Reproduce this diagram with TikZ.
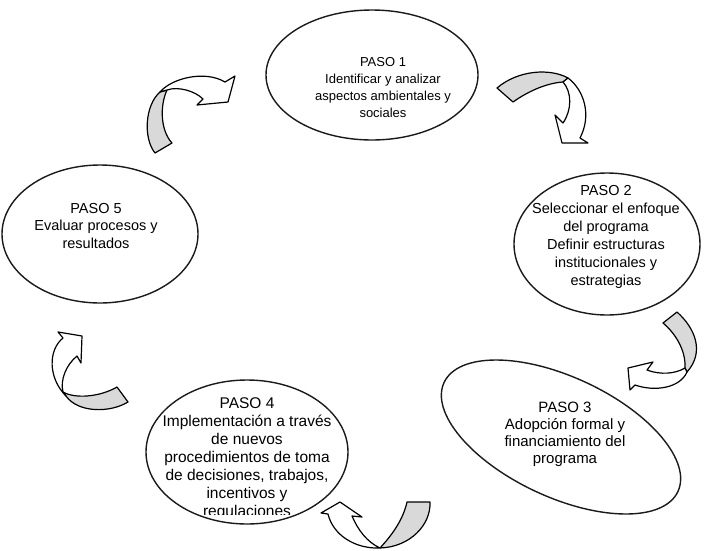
\documentclass[tikz,border=0pt]{standalone}
\usepackage{fontspec}
\setmainfont{Liberation Sans}
\usetikzlibrary{shapes.geometric}
\definecolor{band}{HTML}{D9D9D9}
\definecolor{ink}{HTML}{1A1A1A}

\begin{document}
\begin{tikzpicture}[x=1pt,y=-1pt,
 paso/.style={draw=ink,line width=1.4pt,ellipse,fill=white,inner sep=0pt},
 txt/.style={align=center,inner sep=0pt,font=\fontsize{14.5}{17.5}\selectfont},
 back/.style={draw=black,line width=1.2pt,fill=band,line join=round},
 front/.style={draw=black,line width=1.2pt,fill=white,line join=round}]
 \useasboundingbox (0,0) rectangle (705,550);
 % ellipses
 \node[paso,minimum width=212pt,minimum height=130pt] (p1) at (372,75) {};
 \node[paso,minimum width=186pt,minimum height=142pt] (p2) at (607,244) {};
 \node[paso,minimum width=258pt,minimum height=120pt,rotate=-25] (p3) at (561,437) {};
 \node[paso,minimum width=202pt,minimum height=144pt] (p4) at (247,452) {};
 \node[paso,minimum width=196pt,minimum height=138pt] (p5) at (100,234) {};
 % texts
 \node[txt,font=\fontsize{13}{17}\selectfont] (t1) at (383,88) {PASO 1\\Identificar y analizar\\aspectos ambientales y\\sociales};
 \node[txt,font=\fontsize{14.5}{18}\selectfont] (t2) at (606,237) {PASO 2\\Seleccionar el enfoque\\del programa\\Definir estructuras\\institucionales y\\estrategias};
 \node[txt,font=\fontsize{15}{17}\selectfont] (t3) at (565,434) {PASO 3\\Adopción formal y\\financiamiento del\\programa};
 \begin{scope}
  \clip (140,380) rectangle (352,514);
  \node[txt,font=\fontsize{15.5}{18}\selectfont] (t4) at (247,459) {PASO 4\\Implementación a través\\de nuevos\\procedimientos de toma\\de decisiones, trabajos,\\incentivos y\\regulaciones};
 \end{scope}
 \node[txt] (t5) at (96,226) {PASO 5\\Evaluar procesos y\\resultados};
 % arrow 5 -> 1
 \filldraw[back] (160,92) .. controls (145,105) and (143,138) .. (155,153) -- (172,143)
  .. controls (160,130) and (160,105) .. (167,90) -- cycle;
 \filldraw[front] (160,92) .. controls (172,78) and (205,70) .. (225,82) -- (235,76) -- (228,102)
  -- (197,105) -- (203,99) .. controls (195,91) and (178,86) .. (167,90) -- cycle;
 % arrow 1 -> 2
 \filldraw[back] (497,88) -- (513,102) .. controls (530,90) and (548,83) .. (563,82) -- (568,78)
  .. controls (550,68) and (518,70) .. (497,88) -- cycle;
 \filldraw[front] (568,78) .. controls (584,90) and (592,115) .. (580,138) -- (588,143) -- (562,143)
  -- (555,115) -- (563,123) .. controls (572,110) and (572,92) .. (563,82) -- cycle;
 % arrow 2 -> 3
 \filldraw[back] (663,323) -- (677,312) .. controls (695,328) and (705,352) .. (687,372) -- (685,368)
  .. controls (686,350) and (675,333) .. (663,323) -- cycle;
 \filldraw[front] (687,372) .. controls (680,388) and (655,392) .. (635,385) -- (630,390) -- (628,368)
  -- (653,362) -- (647,370) .. controls (660,375) and (675,374) .. (685,368) -- cycle;
 % arrow 3 -> 4
 \filldraw[back] (407,502) -- (430,502) .. controls (431,525) and (410,547) .. (380,548)
  .. controls (392,535) and (403,520) .. (407,502) -- cycle;
 \filldraw[front] (380,548) .. controls (355,549) and (333,535) .. (328,514) -- (321,513) -- (340,502)
  -- (362,517) -- (352,516) .. controls (358,530) and (367,542) .. (380,548) -- cycle;
 % arrow 4 -> 5
 \filldraw[back] (117,387) -- (128,402) .. controls (110,413) and (78,413) .. (66,396) -- (63,392)
  .. controls (75,399) and (100,397) .. (117,387) -- cycle;
 \filldraw[front] (66,396) .. controls (48,378) and (48,350) .. (63,338) -- (58,332) -- (82,336)
  -- (81,363) -- (77,356) .. controls (66,365) and (60,380) .. (63,392) -- cycle;
\end{tikzpicture}
\end{document}
